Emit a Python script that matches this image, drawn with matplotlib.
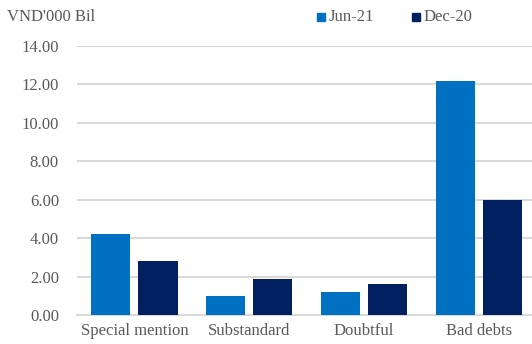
import matplotlib
matplotlib.use("Agg")
import matplotlib.pyplot as plt
import numpy as np
from matplotlib.patches import Rectangle

categories = ["Special mention", "Substandard", "Doubtful", "Bad debts"]
jun21 = [4.2, 1.0, 1.2, 12.2]
dec20 = [2.8, 1.85, 1.6, 6.0]
series_names = ["Jun-21", "Dec-20"]
yticks = [0, 2, 4, 6, 8, 10, 12, 14]

c_jun = "#0070C0"
c_dec = "#002060"
txt = "#595959"
grid = "#D9D9D9"

plt.rcParams["font.family"] = ["Liberation Serif", "DejaVu Serif"]
fs = 12

fig = plt.figure(figsize=(5.32, 3.44), dpi=100)
ax = fig.add_axes([77/532, 1-315/344, (536.5-77)/532, (315-46)/344])

x = np.arange(len(categories))
w = 0.34
off = 0.205
ax.bar(x - off, jun21, width=w, color=c_jun, zorder=3)
ax.bar(x + off, dec20, width=w, color=c_dec, zorder=3)

ax.set_xlim(-0.5, len(categories) - 0.5)
ax.set_ylim(0, 14)
ax.set_yticks(yticks)
ax.set_yticklabels([f"{v:.2f}" for v in yticks], color=txt, fontsize=fs)
ax.set_xticks(x)
ax.set_xticklabels(categories, color=txt, fontsize=fs)
ax.tick_params(axis="both", length=0)
ax.tick_params(axis="y", pad=13)
ax.tick_params(axis="x", pad=6)
ax.grid(axis="y", color=grid, linewidth=1.5, zorder=0)
for s in ["top", "right", "left"]:
    ax.spines[s].set_visible(False)
ax.spines["bottom"].set_color(grid)
ax.spines["bottom"].set_linewidth(1.5)

fig.text(7/532, 1-17/344, "VND'000 Bil", color=txt, fontsize=fs, va="center", ha="left")

# legend
for name, col, mx in zip(series_names, [c_jun, c_dec], [317, 412]):
    fig.patches.append(Rectangle((mx/532, 1-21/344), 8/532, 8/344, transform=fig.transFigure,
                                 color=col, figure=fig))
    fig.text((mx+12)/532, 1-17/344, name, color=txt, fontsize=fs, va="center", ha="left")

fig.savefig("out.png", dpi=100)
